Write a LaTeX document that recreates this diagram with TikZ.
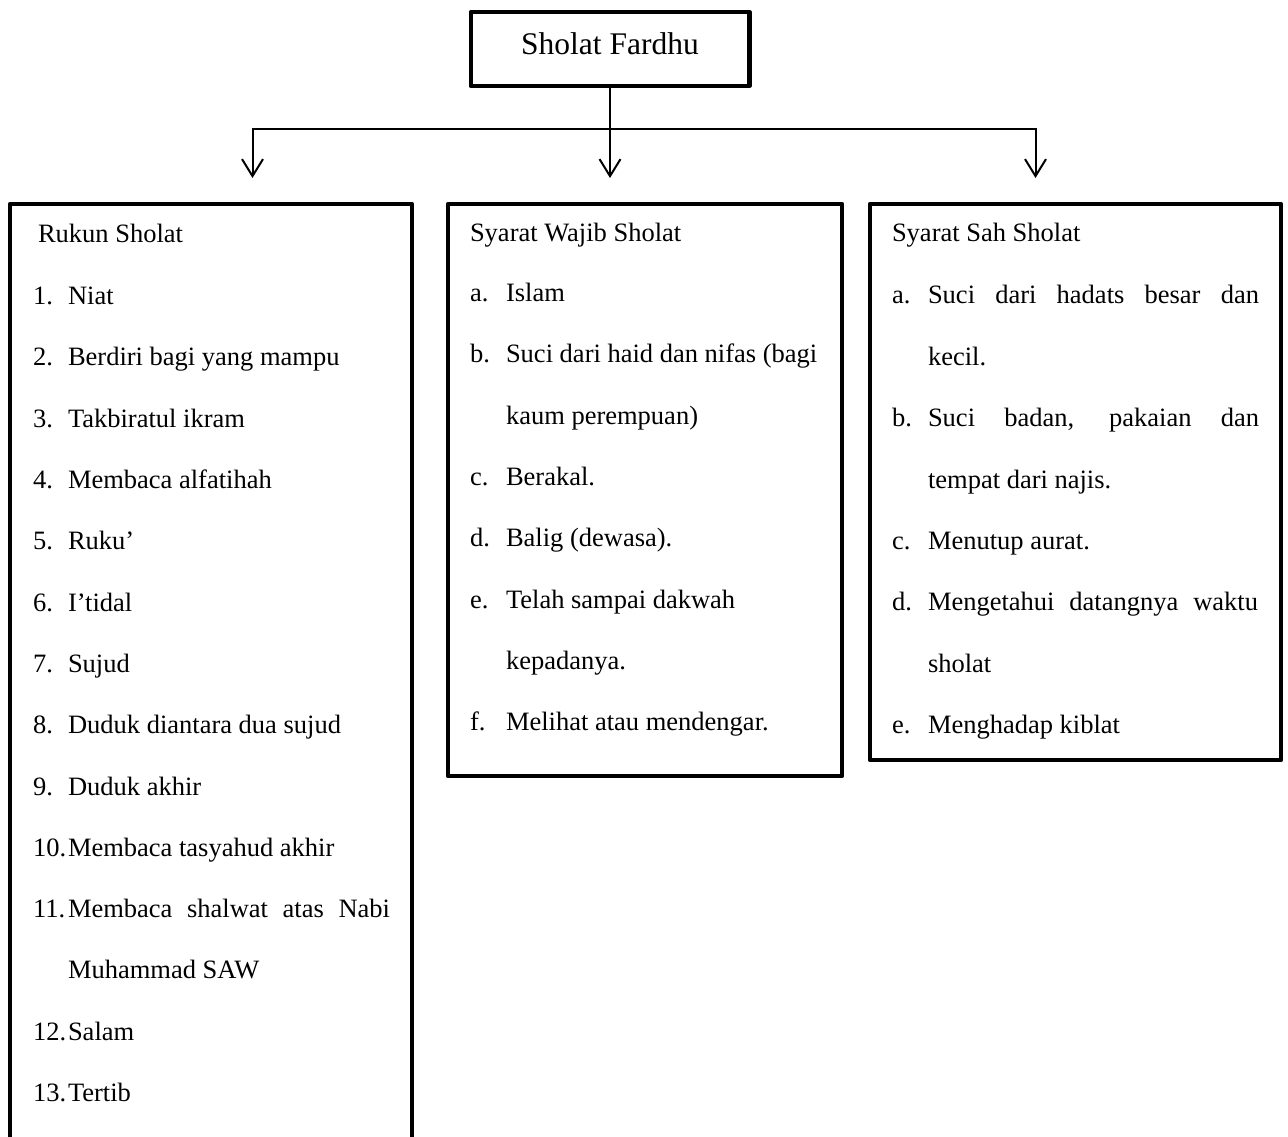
\documentclass[tikz,border=0pt]{standalone}
\usepackage{fontspec}
\setmainfont{Liberation Serif}
\usetikzlibrary{arrows.meta}
\begin{document}
\begin{tikzpicture}[x=1pt,y=-1pt,
  every node/.style={inner sep=0pt, outer sep=0pt},
  boxx/.style={draw, line width=4.5pt, rectangle, line join=round},
  txt/.style={anchor=base west, font=\fontsize{26.5}{30}\selectfont},
  ttl/.style={anchor=base, font=\fontsize{31.5}{36}\selectfont},
  conn/.style={line width=2pt},
  tipx/.tip={Straight Barb[length=17pt,width=21pt,line width=2pt]}
]
\useasboundingbox (0,0) rectangle (1288,1136);
\clip (0,0) rectangle (1288,1136);
\fill[white] (0,0) rectangle (1288,1136);

% boxes
\node[boxx, minimum width=278.5pt, minimum height=74pt] (top) at (610,49) {};
\node[ttl] (toptxt) at (610,54) {Sholat Fardhu};
\node[boxx, minimum width=402pt, minimum height=976pt] (left) at (211,692) {};
\node[boxx, minimum width=394pt, minimum height=572pt] (mid) at (645,490) {};
\node[boxx, minimum width=411pt, minimum height=556pt] (rgt) at (1075.5,482) {};

% connectors
\coordinate (jl) at (252.5,128.5);
\coordinate (jr) at (1035.5,128.5);
\draw[conn, tipx-tipx, shorten <=26pt, shorten >=26pt]
  (jl |- left.north) -- (jl) -- (jr) -- (jr |- rgt.north);
\draw[conn, -tipx, shorten >=26pt] (top.south) -- (top.south |- mid.north);

% left box text
\node[txt] (lt) at (38,242) {Rukun Sholat};
\node[txt] (ln1) at (33,304) {1.};  \node[txt] (l1) at (68,304) {Niat};
\node[txt] (ln2) at (33,365) {2.};  \node[txt] (l2) at (68,365) {Berdiri bagi yang mampu};
\node[txt] (ln3) at (33,427) {3.};  \node[txt] (l3) at (68,427) {Takbiratul ikram};
\node[txt] (ln4) at (33,488) {4.};  \node[txt] (l4) at (68,488) {Membaca alfatihah};
\node[txt] (ln5) at (33,549) {5.};  \node[txt] (l5) at (68,549) {Ruku’};
\node[txt] (ln6) at (33,611) {6.};  \node[txt] (l6) at (68,611) {I’tidal};
\node[txt] (ln7) at (33,672) {7.};  \node[txt] (l7) at (68,672) {Sujud};
\node[txt] (ln8) at (33,733) {8.};  \node[txt] (l8) at (68,733) {Duduk diantara dua sujud};
\node[txt] (ln9) at (33,795) {9.};  \node[txt] (l9) at (68,795) {Duduk akhir};
\node[txt] (ln10) at (33,856) {10.}; \node[txt] (l10) at (68,856) {Membaca tasyahud akhir};
\node[txt] (ln11) at (33,917) {11.}; \node[txt] (l11) at (68,917) {\makebox[322pt][s]{Membaca shalwat atas Nabi}};
\node[txt] (l11b) at (68,978) {Muhammad SAW};
\node[txt] (ln12) at (33,1040) {12.}; \node[txt] (l12) at (68,1040) {Salam};
\node[txt] (ln13) at (33,1101) {13.}; \node[txt] (l13) at (68,1101) {Tertib};

% middle box text
\node[txt] (mt) at (470,241) {Syarat Wajib Sholat};
\node[txt] (mna) at (470,301) {a.}; \node[txt] (ma) at (506,301) {Islam};
\node[txt] (mnb) at (470,362) {b.}; \node[txt] (mb) at (506,362) {Suci dari haid dan nifas (bagi};
\node[txt] (mb2) at (506,424) {kaum perempuan)};
\node[txt] (mnc) at (470,485) {c.}; \node[txt] (mc) at (506,485) {Berakal.};
\node[txt] (mnd) at (470,546) {d.}; \node[txt] (md) at (506,546) {Balig (dewasa).};
\node[txt] (mne) at (470,608) {e.}; \node[txt] (me) at (506,608) {Telah sampai dakwah};
\node[txt] (me2) at (506,669) {kepadanya.};
\node[txt] (mnf) at (470,730) {f.}; \node[txt] (mf) at (506,730) {Melihat atau mendengar.};

% right box text
\node[txt] (rt) at (892,241) {Syarat Sah Sholat};
\node[txt] (rna) at (892,303) {a.}; \node[txt] (ra) at (928,303) {\makebox[331pt][s]{Suci dari hadats besar dan}};
\node[txt] (ra2) at (928,365) {kecil.};
\node[txt] (rnb) at (892,426) {b.}; \node[txt] (rb) at (928,426) {\makebox[331pt][s]{Suci badan, pakaian dan}};
\node[txt] (rb2) at (928,488) {tempat dari najis.};
\node[txt] (rnc) at (892,549) {c.}; \node[txt] (rc) at (928,549) {Menutup aurat.};
\node[txt] (rnd) at (892,610) {d.}; \node[txt] (rd) at (928,610) {\makebox[330pt][s]{Mengetahui datangnya waktu}};
\node[txt] (rd2) at (928,672) {sholat};
\node[txt] (rne) at (892,733) {e.}; \node[txt] (re) at (928,733) {Menghadap kiblat};
\end{tikzpicture}
\end{document}
